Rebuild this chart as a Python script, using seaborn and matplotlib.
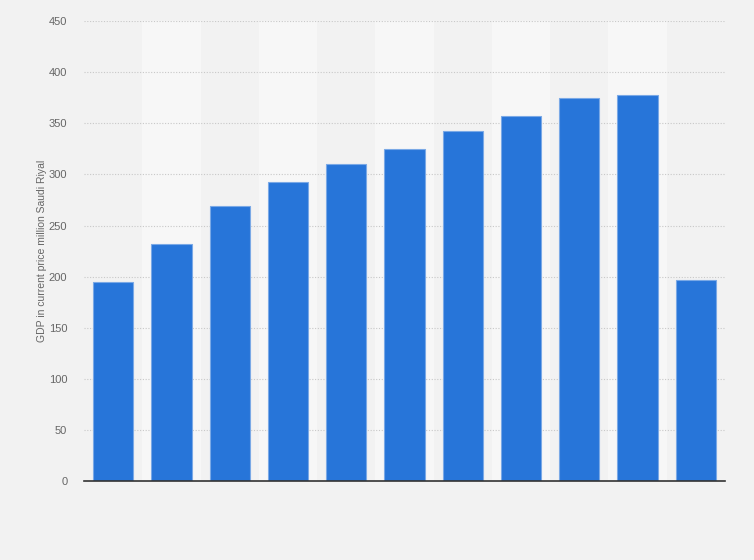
import matplotlib
matplotlib.use("Agg")
import matplotlib.pyplot as plt
import seaborn as sns
import pandas as pd

categories = ["2010", "2011", "2012", "2013", "2014", "2015", "2016", "2017", "2018", "2019", "2020"]
gdp = [194.3, 232.2, 269.3, 293.0, 309.8, 324.4, 342.3, 357.5, 375.1, 377.3, 196.3]

df = pd.DataFrame({"year": categories, "gdp": gdp})

sns.set_theme(style="white")
plt.rcParams['font.family'] = ['Liberation Sans', 'DejaVu Sans']

fig = plt.figure(figsize=(7.54, 5.6), dpi=100, facecolor="#f2f2f2")
ax = fig.add_axes([84/754, 1-481/560, (725-84)/754, (481-20.5)/560])
ax.set_facecolor("#f2f2f2")

# alternating column stripes
for i in range(len(categories)):
    if i % 2 == 1:
        ax.axvspan(i - 0.5, i + 0.5, color="#f7f7f7", zorder=0, lw=0)

sns.barplot(data=df, x="year", y="gdp", ax=ax, color="#2775d9", width=0.69,
            saturation=1, edgecolor="#7aa9e6", linewidth=0.8, zorder=3)

ax.set_xlim(-0.5, len(categories) - 0.5)
ax.set_ylim(0, 450.6)
ax.set_yticks(range(0, 451, 50))
ax.yaxis.grid(True, linestyle=(0, (1, 1.5)), color="#c8c8c8", linewidth=0.8, zorder=1)
ax.set_axisbelow(True)
ax.tick_params(axis="y", length=0, labelsize=8, labelcolor="#666666", pad=12)
ax.tick_params(axis="x", length=0, labelbottom=False)
for s in ["top", "right", "left"]:
    ax.spines[s].set_visible(False)
ax.spines["bottom"].set_color("#333333")
ax.spines["bottom"].set_linewidth(1.2)
ax.spines["bottom"].set_zorder(5)
ax.set_xlabel("")
ax.set_ylabel("GDP in current price million Saudi Riyal", fontsize=7.5, color="#666666", labelpad=1)

fig.savefig("out.png", dpi=100, facecolor=fig.get_facecolor())
